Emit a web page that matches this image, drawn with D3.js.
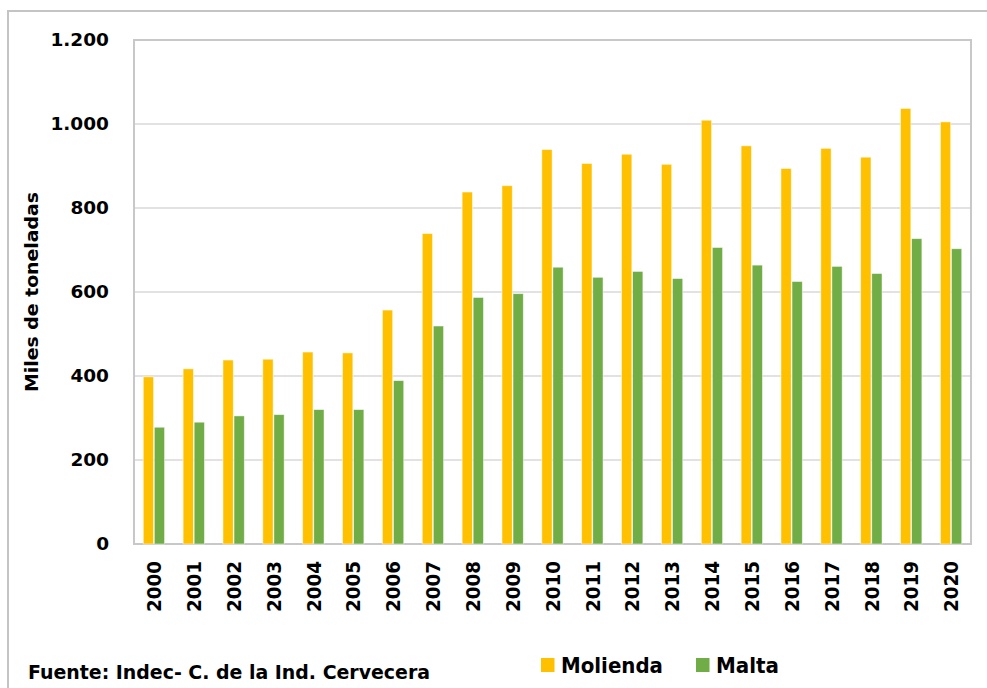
<!DOCTYPE html>
<html>
<head>
<meta charset="utf-8">
<script src="https://cdn.jsdelivr.net/npm/d3@7"></script>
<style>
  body { margin: 0; background: #fff; }
  text { font-family: "DejaVu Sans", sans-serif; font-weight: bold; fill: #000; }
</style>
</head>
<body>
<div id="chart"></div>
<script>
// datos: miles de toneladas
var years = ["2000","2001","2002","2003","2004","2005","2006","2007","2008","2009","2010",
             "2011","2012","2013","2014","2015","2016","2017","2018","2019","2020"];
var molienda = [398, 417, 438, 440, 457, 455, 557, 739, 838, 853, 939,
                906, 928, 904, 1009, 948, 894, 942, 921, 1037, 1005];
var malta = [278, 290, 305, 308, 320, 320, 389, 519, 587, 596, 659,
             635, 649, 632, 706, 664, 625, 661, 644, 727, 703];
var seriesNames = ["Molienda", "Malta"];
var yTicks = [0, 200, 400, 600, 800, 1000, 1200];

var width = 987, height = 688;
var colors = { "Molienda": "#FFC000", "Malta": "#70AD47" };

var svg = d3.select("#chart")
    .append("svg")
    .attr("width", width)
    .attr("height", height);

svg.append("rect")
    .attr("width", "100%")
    .attr("height", "100%")
    .attr("fill", "white");

// outer chart frame
svg.append("rect")
    .attr("x", 8)
    .attr("y", 11)
    .attr("width", 990)
    .attr("height", 700)
    .attr("fill", "none")
    .attr("stroke", "#c4c4c4")
    .attr("stroke-width", 2);

var plot = { left: 134, right: 971, top: 40, bottom: 544 };

var y = d3.scaleLinear()
    .domain([0, 1200])
    .range([plot.bottom, plot.top]);

var x = d3.scaleBand()
    .domain(years)
    .range([plot.left, plot.right])
    .paddingInner(0.465)
    .paddingOuter(0.2325);

var x1 = d3.scaleBand()
    .domain(seriesNames)
    .range([0, x.bandwidth()])
    .paddingInner(0.07);

var fmt = d3.formatLocale({ decimal: ",", thousands: ".", grouping: [3], currency: ["$", ""] }).format(",");

// gridlines
svg.append("g")
    .selectAll("line")
    .data(yTicks)
    .enter().append("line")
    .attr("x1", plot.left)
    .attr("x2", plot.right)
    .attr("y1", function(d) { return y(d); })
    .attr("y2", function(d) { return y(d); })
    .attr("stroke", "#d9d9d9")
    .attr("stroke-width", 1.5);

// plot area border
svg.append("rect")
    .attr("x", plot.left)
    .attr("y", plot.top)
    .attr("width", plot.right - plot.left)
    .attr("height", plot.bottom - plot.top)
    .attr("fill", "none")
    .attr("stroke", "#c8c8c8")
    .attr("stroke-width", 2);

// bars
var rows = years.map(function(yr, i) {
    return { year: yr, values: [
        { name: "Molienda", value: molienda[i] },
        { name: "Malta", value: malta[i] }
    ]};
});

var groups = svg.append("g")
    .selectAll("g")
    .data(rows)
    .enter().append("g")
    .attr("transform", function(d) { return "translate(" + x(d.year) + ",0)"; });

groups.selectAll("rect")
    .data(function(d) { return d.values; })
    .enter().append("rect")
    .attr("x", function(d) { return x1(d.name); })
    .attr("width", x1.bandwidth())
    .attr("y", function(d) { return y(d.value); })
    .attr("height", function(d) { return plot.bottom - y(d.value); })
    .attr("fill", function(d) { return colors[d.name]; })
    .attr("stroke", "#ffffff")
    .attr("stroke-opacity", 0.6)
    .attr("stroke-width", 0.8);

// y axis
var yAxis = svg.append("g")
    .attr("transform", "translate(" + plot.left + ",0)")
    .call(d3.axisLeft(y).tickValues(yTicks).tickSize(0).tickPadding(25).tickFormat(fmt));
yAxis.select(".domain").remove();
yAxis.selectAll("text")
    .attr("font-family", "DejaVu Sans, sans-serif")
    .attr("font-weight", "bold")
    .attr("font-size", 18.5)
    .attr("fill", "#000");

// x axis labels, rotated
svg.append("g")
    .selectAll("text")
    .data(years)
    .enter().append("text")
    .attr("transform", function(d) {
        return "translate(" + (x(d) + x.bandwidth() / 2) + ",561) rotate(-90)";
    })
    .attr("text-anchor", "end")
    .attr("dy", "0.36em")
    .attr("font-size", 20)
    .attr("textLength", 51)
    .attr("lengthAdjust", "spacingAndGlyphs")
    .text(function(d) { return d; });

// y title
svg.append("text")
    .attr("transform", "translate(32,292) rotate(-90)")
    .attr("text-anchor", "middle")
    .attr("dy", "0.36em")
    .attr("font-size", 18)
    .attr("textLength", 200)
    .attr("lengthAdjust", "spacingAndGlyphs")
    .text("Miles de toneladas");

// source
svg.append("text")
    .attr("x", 28)
    .attr("y", 679)
    .attr("font-size", 19)
    .attr("textLength", 402)
    .attr("lengthAdjust", "spacingAndGlyphs")
    .text("Fuente: Indec- C. de la Ind. Cervecera");

// legend
var legendItems = [
    { name: "Molienda", sx: 541, tx: 561, len: 102 },
    { name: "Malta", sx: 696, tx: 716, len: 63 }
];
var legend = svg.append("g")
    .selectAll("g")
    .data(legendItems)
    .enter().append("g");

legend.append("rect")
    .attr("x", function(d) { return d.sx; })
    .attr("y", 658)
    .attr("width", 13.5)
    .attr("height", 14)
    .attr("fill", function(d) { return colors[d.name]; });

legend.append("text")
    .attr("x", function(d) { return d.tx; })
    .attr("y", 673)
    .attr("font-size", 21)
    .attr("textLength", function(d) { return d.len; })
    .attr("lengthAdjust", "spacingAndGlyphs")
    .text(function(d) { return d.name; });
</script>
</body>
</html>
